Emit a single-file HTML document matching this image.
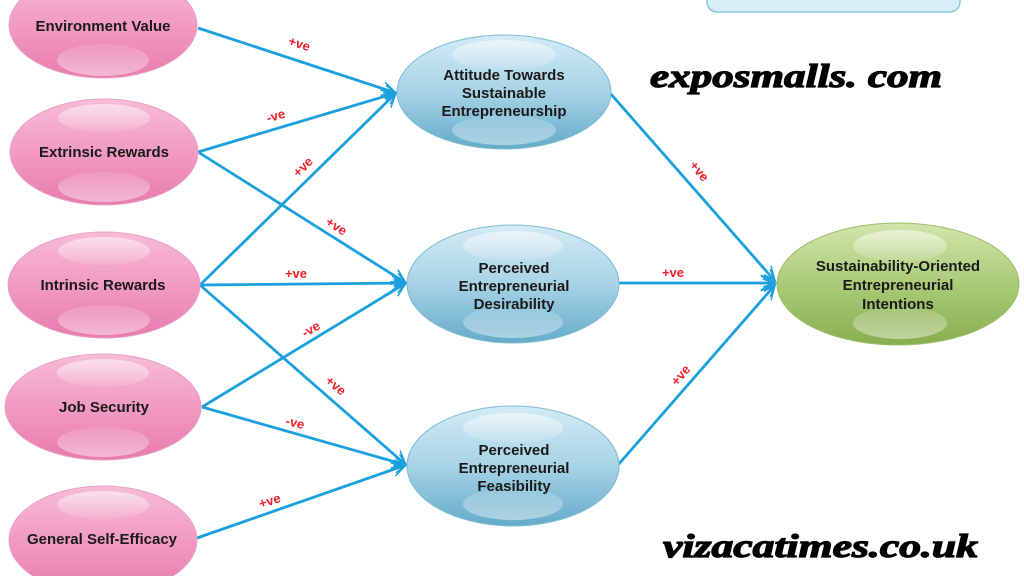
<!DOCTYPE html>
<html><head><meta charset="utf-8"><style>
html,body{margin:0;padding:0;background:#fff}
svg{display:block}
.n{font-family:"Liberation Sans",sans-serif;font-weight:bold;font-size:15px;fill:#1a1a1a;text-anchor:middle}
.l{font-family:"Liberation Sans",sans-serif;font-weight:bold;font-size:13px;fill:#f0202a;text-anchor:middle}
.w{font-family:"Liberation Serif",serif;font-weight:bold;font-style:italic;font-size:33px;fill:#000;stroke:#000;stroke-width:1.2}
</style></head><body>
<svg width="1024" height="576" viewBox="0 0 1024 576" xmlns="http://www.w3.org/2000/svg">
<defs>
<linearGradient id="pk" x1="0" y1="0" x2="0" y2="1">
<stop offset="0" stop-color="#f6bcd6"/><stop offset="0.5" stop-color="#f29ac2"/><stop offset="1" stop-color="#e77cae"/></linearGradient>
<linearGradient id="bl" x1="0" y1="0" x2="0" y2="1">
<stop offset="0" stop-color="#d4ebf4"/><stop offset="0.5" stop-color="#a7d3e6"/><stop offset="1" stop-color="#64abc9"/></linearGradient>
<linearGradient id="gr" x1="0" y1="0" x2="0" y2="1">
<stop offset="0" stop-color="#d2e5ab"/><stop offset="0.5" stop-color="#aacb78"/><stop offset="1" stop-color="#88ae50"/></linearGradient>
<linearGradient id="hl" x1="0" y1="0" x2="0" y2="1">
<stop offset="0" stop-color="#fff" stop-opacity="0.55"/><stop offset="1" stop-color="#fff" stop-opacity="0.1"/></linearGradient>
<linearGradient id="hl2" x1="0" y1="0" x2="0" y2="1">
<stop offset="0" stop-color="#fff" stop-opacity="0.1"/><stop offset="1" stop-color="#fff" stop-opacity="0.45"/></linearGradient>
<marker id="a" markerWidth="16" markerHeight="16" refX="14" refY="8" orient="auto" markerUnits="userSpaceOnUse">
<path d="M0,1 L14,8 L0,15 M2,4 L14,8 L2,12" fill="none" stroke="#1aa0dc" stroke-width="1.5"/></marker>
</defs>
<rect x="707" y="-10" width="253" height="22" rx="10" fill="#d6eef6" stroke="#8cc6de" stroke-width="1.5"/>
<g stroke="#1aa0dc" stroke-width="2.8" fill="none" marker-end="url(#a)">
<line x1="198" y1="28" x2="396" y2="93"/>
<line x1="198" y1="152" x2="396" y2="93"/>
<line x1="198" y1="152" x2="406" y2="283"/>
<line x1="200" y1="285" x2="396" y2="93"/>
<line x1="200" y1="285" x2="406" y2="283"/>
<line x1="200" y1="285" x2="406" y2="465"/>
<line x1="202" y1="407" x2="406" y2="283"/>
<line x1="202" y1="407" x2="406" y2="465"/>
<line x1="197" y1="538" x2="406" y2="465"/>
<line x1="610" y1="93" x2="775" y2="281"/>
<line x1="618" y1="283" x2="775" y2="283"/>
<line x1="618" y1="465" x2="775" y2="285"/>
</g>
<g>
<ellipse cx="103" cy="25" rx="94" ry="53" fill="url(#pk)" stroke="#e9a1c4"/>
<ellipse cx="103" cy="60" rx="46" ry="16" fill="url(#hl2)"/>
<ellipse cx="104" cy="152" rx="94" ry="53" fill="url(#pk)" stroke="#e9a1c4"/>
<ellipse cx="104" cy="118" rx="46" ry="14" fill="url(#hl)"/><ellipse cx="104" cy="187" rx="46" ry="15" fill="url(#hl2)"/>
<ellipse cx="104" cy="285" rx="96" ry="53" fill="url(#pk)" stroke="#e9a1c4"/>
<ellipse cx="104" cy="251" rx="46" ry="14" fill="url(#hl)"/><ellipse cx="104" cy="320" rx="46" ry="15" fill="url(#hl2)"/>
<ellipse cx="103" cy="407" rx="98" ry="53" fill="url(#pk)" stroke="#e9a1c4"/>
<ellipse cx="103" cy="373" rx="46" ry="14" fill="url(#hl)"/><ellipse cx="103" cy="442" rx="46" ry="15" fill="url(#hl2)"/>
<ellipse cx="103" cy="540" rx="94" ry="54" fill="url(#pk)" stroke="#e9a1c4"/>
<ellipse cx="103" cy="505" rx="46" ry="14" fill="url(#hl)"/>
<ellipse cx="504" cy="92" rx="107" ry="57" fill="url(#bl)" stroke="#7fbcd6"/>
<ellipse cx="504" cy="55" rx="52" ry="15" fill="url(#hl)"/><ellipse cx="504" cy="130" rx="52" ry="15" fill="url(#hl2)"/>
<ellipse cx="513" cy="284" rx="106" ry="59" fill="url(#bl)" stroke="#7fbcd6"/>
<ellipse cx="513" cy="246" rx="50" ry="15" fill="url(#hl)"/><ellipse cx="513" cy="322" rx="50" ry="16" fill="url(#hl2)"/>
<ellipse cx="513" cy="466" rx="106" ry="60" fill="url(#bl)" stroke="#7fbcd6"/>
<ellipse cx="513" cy="428" rx="50" ry="15" fill="url(#hl)"/><ellipse cx="513" cy="504" rx="50" ry="16" fill="url(#hl2)"/>
<ellipse cx="898" cy="284" rx="121" ry="61" fill="url(#gr)" stroke="#9cbf6a"/>
<ellipse cx="900" cy="246" rx="47" ry="16" fill="url(#hl)"/><ellipse cx="900" cy="323" rx="47" ry="16" fill="url(#hl2)"/>
</g>
<text class="n" x="103" y="31">Environment Value</text>
<text class="n" x="104" y="157">Extrinsic Rewards</text>
<text class="n" x="103" y="290">Intrinsic Rewards</text>
<text class="n" x="104" y="412">Job Security</text>
<text class="n" x="102" y="544">General Self-Efficacy</text>
<text class="n" x="504" y="80">Attitude Towards</text>
<text class="n" x="504" y="98">Sustainable</text>
<text class="n" x="504" y="116">Entrepreneurship</text>
<text class="n" x="514" y="273">Perceived</text>
<text class="n" x="514" y="291">Entrepreneurial</text>
<text class="n" x="514" y="309">Desirability</text>
<text class="n" x="514" y="455">Perceived</text>
<text class="n" x="514" y="473">Entrepreneurial</text>
<text class="n" x="514" y="491">Feasibility</text>
<text class="n" x="898" y="271">Sustainability-Oriented</text>
<text class="n" x="898" y="290">Entrepreneurial</text>
<text class="n" x="898" y="309">Intentions</text>
<text class="l" transform="translate(298,48) rotate(18)">+ve</text>
<text class="l" transform="translate(277,120) rotate(-16)">-ve</text>
<text class="l" transform="translate(306,170) rotate(-45)">+ve</text>
<text class="l" transform="translate(334,230) rotate(32)">+ve</text>
<text class="l" transform="translate(296,278)">+ve</text>
<text class="l" transform="translate(313,333) rotate(-30)">-ve</text>
<text class="l" transform="translate(333,389) rotate(40)">+ve</text>
<text class="l" transform="translate(294,427) rotate(14)">-ve</text>
<text class="l" transform="translate(271,505) rotate(-18)">+ve</text>
<text class="l" transform="translate(696,174) rotate(50)">+ve</text>
<text class="l" transform="translate(673,277)">+ve</text>
<text class="l" transform="translate(684,378) rotate(-50)">+ve</text>
<text class="w" x="650" y="87" textLength="292" lengthAdjust="spacingAndGlyphs">exposmalls. com</text>
<text class="w" x="663" y="557" textLength="315" lengthAdjust="spacingAndGlyphs">vizacatimes.co.uk</text>
</svg>
</body></html>
